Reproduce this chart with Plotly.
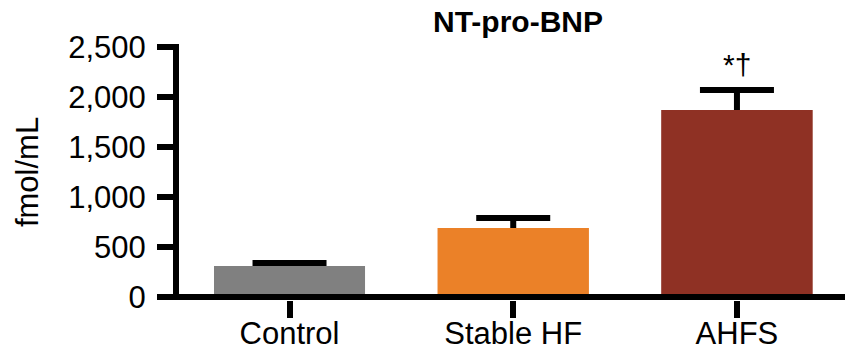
import plotly.graph_objects as go

categories = ["Control", "Stable HF", "AHFS"]
means = [310, 690, 1870]
errors = [30, 100, 200]
colors = ["#808080", "#EB8128", "#8F3124"]
y_ticks = [0, 500, 1000, 1500, 2000, 2500]
y_tick_labels = ["0", "500", "1,000", "1,500", "2,000", "2,500"]
markers = ["", "", "*†"]

FONT = "Liberation Sans, Arial, Helvetica, sans-serif"

fig = go.Figure()
# bars carrying the error bars (drawn first)
fig.add_trace(go.Bar(
    x=categories, y=means, width=0.675,
    marker=dict(color=colors, line=dict(width=0)),
    error_y=dict(type="data", array=errors, visible=True,
                 color="black", thickness=6, width=37),
    showlegend=False, hoverinfo="skip",
))
# identical bars on top to hide the lower half of the error bars
fig.add_trace(go.Bar(
    x=categories, y=means, width=0.675,
    marker=dict(color=colors, line=dict(width=0)),
    showlegend=False,
))

for c, m, e, t in zip(categories, means, errors, markers):
    if t:
        fig.add_annotation(x=c, y=m + e, text=t, showarrow=False,
                           yanchor="middle", yshift=26,
                           font=dict(family=FONT, size=30, color="black"))

# x-axis baseline at y = 0
fig.add_shape(type="line", xref="paper", x0=0, x1=1, yref="y", y0=0, y1=0,
              line=dict(color="black", width=6), layer="above")

fig.update_layout(
    width=845, height=352,
    margin=dict(l=179, r=0, t=44, b=52, autoexpand=False),
    barmode="overlay",
    plot_bgcolor="white", paper_bgcolor="white",
    font=dict(family=FONT, size=31, color="black"),
    title=dict(text="<b>NT-pro-BNP</b>", x=518 / 845, xanchor="center",
               y=1 - 21 / 352, yanchor="middle",
               font=dict(family=FONT, size=30, color="black")),
    xaxis=dict(
        type="category", range=[-0.494, 2.483], automargin=False,
        showline=False, showgrid=False, zeroline=False,
        ticks="outside", ticklen=17, tickwidth=6, tickcolor="black",
        ticklabelstandoff=-11,
        tickfont=dict(family=FONT, size=31, color="black"),
    ),
    yaxis=dict(
        range=[-30, 2530], automargin=False,
        tickvals=y_ticks, ticktext=y_tick_labels,
        showline=True, linewidth=6, linecolor="black",
        showgrid=False, zeroline=False,
        ticks="outside", ticklen=16, tickwidth=6, tickcolor="black",
        ticklabelstandoff=5,
        tickfont=dict(family=FONT, size=31, color="black"),
        title=dict(text="fmol/mL", standoff=22,
                   font=dict(family=FONT, size=31, color="black")),
    ),
)

fig.write_html("out.html",
               config={"displayModeBar": False},
               post_script="document.body.style.margin='0';document.body.style.overflow='hidden';")
